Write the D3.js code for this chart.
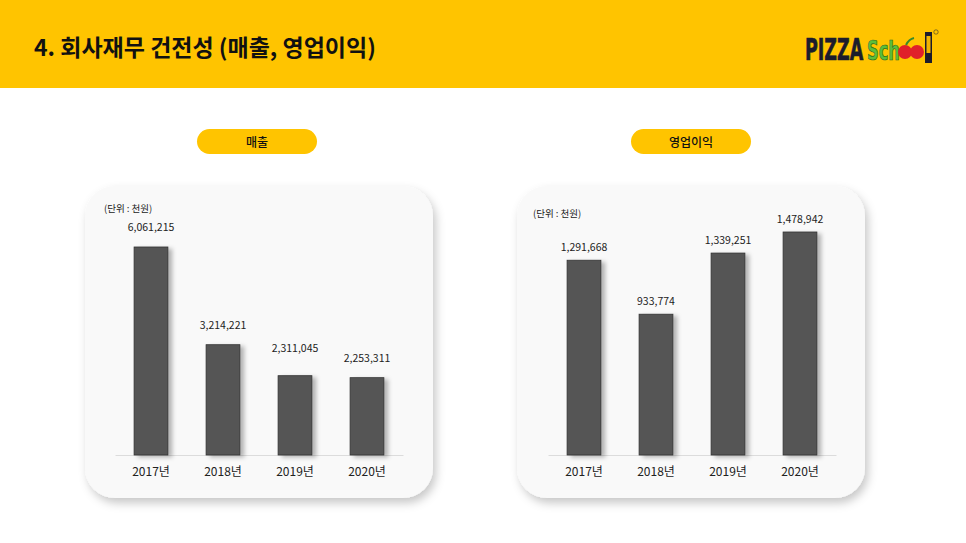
<!DOCTYPE html>
<html>
<head>
<meta charset="utf-8">
<script src="https://cdn.jsdelivr.net/npm/d3@7"></script>
<style>
  html, body { margin: 0; padding: 0; background: #fff; }
  svg { display: block; font-family: "Noto Sans CJK KR", "Noto Sans", sans-serif; }
</style>
</head>
<body>
<svg id="chart" width="966" height="543"></svg>
<script>
const years = ['2017년', '2018년', '2019년', '2020년']
const sales = [6061215, 3214221, 2311045, 2253311]
const profit = [1291668, 933774, 1339251, 1478942]
const titles = ['매출', '영업이익']
const unitLabel = '(단위 : 천원)'

const svg = d3.select('#chart')
const defs = svg.append('defs')

defs.append('filter').attr('id', 'panelShadow')
  .attr('x', '-10%').attr('y', '-10%').attr('width', '125%').attr('height', '125%')
  .append('feDropShadow')
  .attr('dx', 3).attr('dy', 5).attr('stdDeviation', 5)
  .attr('flood-color', '#000').attr('flood-opacity', 0.22)

defs.append('filter').attr('id', 'barShadow')
  .attr('x', '-20%').attr('y', '-10%').attr('width', '160%').attr('height', '120%')
  .append('feDropShadow')
  .attr('dx', 4).attr('dy', 2).attr('stdDeviation', 2)
  .attr('flood-color', '#000').attr('flood-opacity', 0.28)

// header band
svg.append('rect').attr('x', 0).attr('y', 0).attr('width', 966).attr('height', 88).attr('fill', '#ffc400')
svg.append('text').attr('x', 34).attr('y', 56)
  .attr('font-size', 23).attr('font-weight', 700).attr('fill', '#111')
  .text('4. 회사재무 건전성 (매출, 영업이익)')

// logo: tall condensed words, drawn with a vertical stretch
let logo = svg.append('g').attr('transform', 'translate(805,60)')
logo.append('text').attr('transform', 'scale(1,1.55)')
  .attr('font-family', '"DejaVu Sans Condensed", "DejaVu Sans", sans-serif')
  .attr('font-weight', 700).attr('font-size', 19.5)
  .attr('fill', '#1c1c2c').attr('stroke', '#1c1c2c').attr('stroke-width', 0.4)
  .text('PIZZA')
logo.append('text').attr('transform', 'translate(62,0) scale(1,1.45)')
  .attr('font-family', '"DejaVu Sans Condensed", "DejaVu Sans", sans-serif')
  .attr('font-weight', 700).attr('font-size', 18)
  .attr('fill', '#5cbf3a').attr('stroke', '#2f6b1f').attr('stroke-width', 0.5)
  .text('Sch')
logo.append('circle').attr('cx', 100).attr('cy', -8).attr('r', 7).attr('fill', '#e0202a')
logo.append('circle').attr('cx', 112).attr('cy', -8).attr('r', 7).attr('fill', '#e0202a')
logo.append('path').attr('d', 'M101,-15 q3,-6 8,-7').attr('stroke', '#3a8a2a').attr('stroke-width', 2).attr('fill', 'none')
logo.append('rect').attr('x', 120).attr('y', -28).attr('width', 7).attr('height', 31).attr('fill', '#1c1c2c')
logo.append('rect').attr('x', 121.5).attr('y', -24).attr('width', 4).attr('height', 17).attr('fill', '#f2b400')
logo.append('circle').attr('cx', 131).attr('cy', -28).attr('r', 2.2)
  .attr('fill', 'none').attr('stroke', '#333').attr('stroke-width', 0.6)

const panels = [
  {values: sales, pillX: 257, px: 85, range: [115, 403], topY: 247, unitX: 104, unitY: 212, lift: [16, 16, 24, 16]},
  {values: profit, pillX: 691, px: 517, range: [548, 836], topY: 232, unitX: 533, unitY: 217, lift: [9, 9, 9, 9]}
]

panels.forEach((p, i) => drawPanel(p, titles[i]))

function drawPanel(p, title){
  let g = svg.append('g')

  // pill title
  g.append('rect').attr('x', p.pillX - 60).attr('y', 129).attr('width', 120).attr('height', 25)
    .attr('rx', 12.5).attr('fill', '#ffc400')
  g.append('text').attr('x', p.pillX).attr('y', 146.5).attr('text-anchor', 'middle')
    .attr('font-size', 12).attr('font-weight', 500).attr('fill', '#111').text(title)

  // card
  g.append('rect').attr('x', p.px).attr('y', 186).attr('width', 348).attr('height', 312)
    .attr('rx', 30).attr('fill', '#f9f9f9').attr('filter', 'url(#panelShadow)')

  g.append('text').attr('x', p.unitX).attr('y', p.unitY)
    .attr('font-size', 9.5).attr('fill', '#222').text(unitLabel)

  let x = d3.scaleBand().domain(years).range(p.range).paddingInner(0.53).paddingOuter(0.265)
  let baseY = 455
  let y = d3.scaleLinear().domain([0, d3.max(p.values)]).range([baseY, p.topY])

  let axis = g.append('g').attr('transform', `translate(0,${baseY})`)
    .call(d3.axisBottom(x).tickSize(0).tickPadding(12))
  axis.select('.domain').attr('stroke', '#dcdcdc').attr('stroke-width', 1)
  axis.selectAll('text').attr('font-size', 12).attr('fill', '#222')
    .attr('font-family', '"Noto Sans CJK KR", sans-serif')

  g.append('g').selectAll('rect').data(p.values).join('rect')
    .attr('x', (d, j) => x(years[j]))
    .attr('y', d => y(d))
    .attr('width', x.bandwidth())
    .attr('height', d => baseY - y(d))
    .attr('fill', '#555555')
    .attr('stroke', '#333')
    .attr('stroke-width', 0.8)
    .attr('filter', 'url(#barShadow)')

  g.append('g').selectAll('text').data(p.values).join('text')
    .attr('x', (d, j) => x(years[j]) + x.bandwidth() / 2)
    .attr('y', (d, j) => y(d) - p.lift[j])
    .attr('text-anchor', 'middle')
    .attr('font-size', 10.5).attr('fill', '#222')
    .text(d3.format(','))
}
</script>
</body>
</html>
